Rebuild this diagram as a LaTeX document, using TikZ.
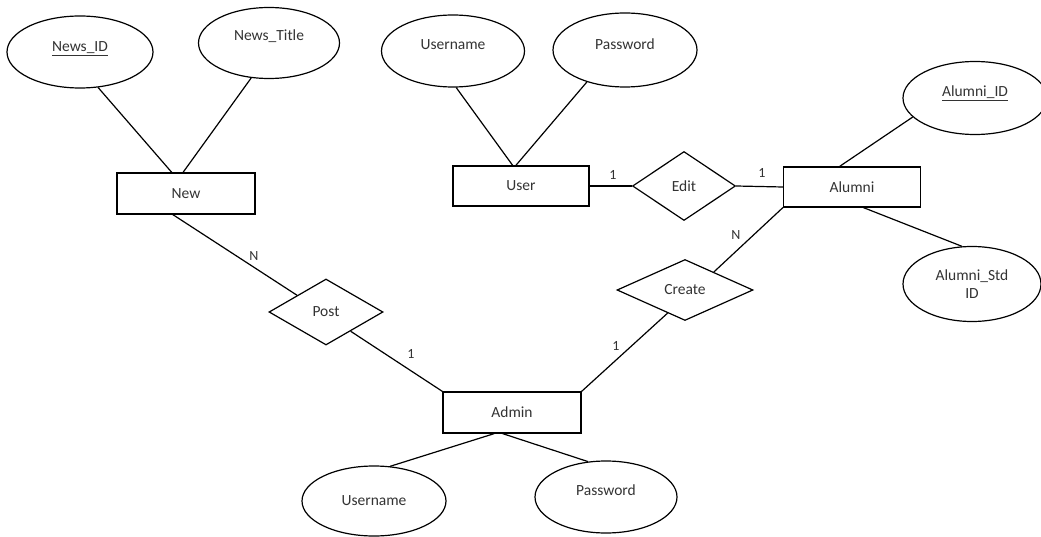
\documentclass[tikz,border=0pt]{standalone}
\usepackage{fontspec}
\setmainfont{Carlito}
\usetikzlibrary{shapes.geometric}
\tikzset{
  attr/.style={draw, ellipse, inner sep=0pt, line width=1.2pt, text=black!80},
  ent/.style={draw, rectangle, inner sep=0pt, line width=1.2pt, text=black!80},
  rel/.style={draw, diamond, inner sep=0pt, line width=1.2pt, text=black!80},
  conn/.style={line width=1.2pt},
  card/.style={inner sep=0pt, text=black!80, font=\fontsize{14}{16}\selectfont},
  tup/.style={text height=11pt, text depth=#1}
}
\begin{document}
\begin{tikzpicture}[x=1pt, y=-1pt, font=\fontsize{15.5}{18}\selectfont]
\useasboundingbox (0,0) rectangle (1041,537);
\clip (0,0) rectangle (1041,537);
\fill[white] (0,0) rectangle (1041,537);

% attributes
\node[attr, tup=11pt, minimum width=146pt, minimum height=72pt] (newsid) at (80,52) {\underline{News\_ID}};
\node[attr, tup=15pt, minimum width=141pt, minimum height=71pt] (newstitle) at (269,43) {News\_Title};
\node[attr, tup=13pt, minimum width=143pt, minimum height=72pt] (uname1) at (453,51) {Username};
\node[attr, tup=11pt, minimum width=144pt, minimum height=74pt] (pass1) at (625,50) {Password};
\node[attr, tup=13pt, minimum width=144pt, minimum height=73pt] (alumniid) at (975,98) {\underline{Alumni\_ID}};
\node[attr, minimum width=138pt, minimum height=75pt, align=center] (alumnistd) at (972,284) {Alumni\_Std\\ID};
\node[attr, minimum width=144pt, minimum height=70pt] (uname2) at (374,501) {Username};
\node[attr, tup=15pt, minimum width=142pt, minimum height=72pt] (pass2) at (606,497) {Password};

% entities
\node[ent, minimum width=138pt, minimum height=41pt] (new) at (186,193.5) {New};
\node[ent, minimum width=136pt, minimum height=40pt] (user) at (521,186) {User};
\node[ent, minimum width=137pt, minimum height=40pt] (alumni) at (852,187) {Alumni};
\node[ent, minimum width=138pt, minimum height=41pt] (admin) at (512,412.5) {Admin};

% relationships
\node[rel, minimum width=103pt, minimum height=69pt] (edit) at (684,186) {Edit};
\node[rel, minimum width=136pt, minimum height=61pt] (create) at (685,290) {Create};
\node[rel, minimum width=114pt, minimum height=66pt] (post) at (326,312) {Post};

% connectors
\draw[conn] (newsid.-63) -- (new.124);
\draw[conn] (newstitle.-117) -- (new.98);
\draw[conn] (uname1.-85) -- (user.112);
\draw[conn] (pass1.-140) -- (user.104);
\draw[conn] (user.east) -- (edit.west);
\draw[conn] (edit.east) -- (alumni.west);
\draw[conn] (alumniid.-163) -- (alumni.121);
\draw[conn] (alumni.-61) -- (alumnistd.105);
\draw[conn] (alumni.south west) -- (create.32);
\draw[conn] (create.-127) -- (admin.north east);
\draw[conn] (post.-38) -- (admin.north west);
\draw[conn] (new.-122) -- (post.150);
\draw[conn] (admin.-130) -- (uname2.65);
\draw[conn] (admin.-114) -- (pass2.117);

% cardinalities
\node[card] (c1) at (613,175) {1};
\node[card] (c2) at (762,173) {1};
\node[card] (c3) at (736,235) {N};
\node[card] (c4) at (616,346) {1};
\node[card] (c5) at (411,354) {1};
\node[card] (c6) at (254,256) {N};
\end{tikzpicture}
\end{document}
